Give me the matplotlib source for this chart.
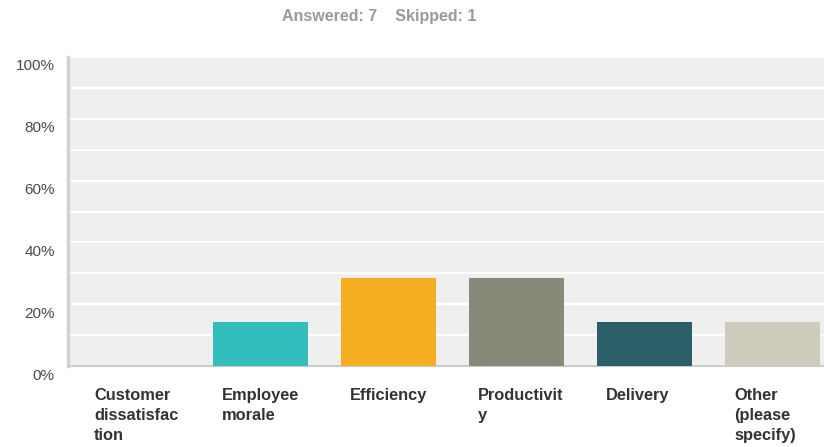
import matplotlib
matplotlib.use('Agg')
import matplotlib.pyplot as plt
import matplotlib.transforms as mtransforms
import numpy as np

# survey answers (share of respondents, %)
categories = ['Customer\ndissatisfac\ntion', 'Employee\nmorale', 'Efficiency',
              'Productivit\ny', 'Delivery', 'Other\n(please\nspecify)']
values = [0.0, 14.29, 28.57, 28.57, 14.29, 14.29]
colors = ['#F5AE21', '#33BDBD', '#F5AE21', '#878A78', '#2D5F6B', '#CDCBBB']
yticks = [0, 20, 40, 60, 80, 100]
ytick_labels = ['0%', '20%', '40%', '60%', '80%', '100%']
answered = 7
skipped = 1

plt.rcParams['font.family'] = ['Liberation Sans', 'DejaVu Sans']

fig = plt.figure(figsize=(8.24, 4.47), dpi=100)
ax = fig.add_axes([68 / 824, 81 / 447, 1 - 68 / 824, 309 / 447])
ax.set_facecolor('#EFEFEF')

index = np.arange(len(categories))
ax.bar(index, values, width=0.742, color=colors, zorder=3)

ax.set_xlim(-0.504, 5.40)
ax.set_ylim(0, 100)

# white gridlines every 10%
ax.set_yticks(np.arange(0, 101, 10), minor=True)
ax.yaxis.grid(True, which='both', color='white', linewidth=1.6, zorder=1)
ax.set_axisbelow(True)

ax.set_yticks(yticks)
ax.set_yticklabels(ytick_labels, fontsize=11, color='#4A4A4A')
ax.tick_params(axis='y', which='both', length=0, pad=9.5)
offset = mtransforms.ScaledTranslation(0, -8 / 100, fig.dpi_scale_trans)
for lab in ax.get_yticklabels():
    lab.set_transform(lab.get_transform() + offset)

ax.set_xticks([])
for side in ['top', 'right']:
    ax.spines[side].set_visible(False)
ax.spines['left'].set_color('#D2D2D2')
ax.spines['left'].set_linewidth(2.5)
ax.spines['bottom'].set_color('#CCCCCC')
ax.spines['bottom'].set_linewidth(1.5)

# category labels, left aligned under each bar
for i, name in enumerate(categories):
    ax.text(i - 0.30, -0.07, name, transform=ax.get_xaxis_transform(),
            ha='left', va='top', fontsize=11.8, fontweight='bold',
            color='#333333', linespacing=1.45)

fig.text(379 / 824, 1 - 17 / 447,
         'Answered: {}    Skipped: {}'.format(answered, skipped),
         ha='center', va='center', fontsize=11.5, fontweight='bold',
         color='#9A9A9A')

fig.savefig('out.png', dpi=100)
